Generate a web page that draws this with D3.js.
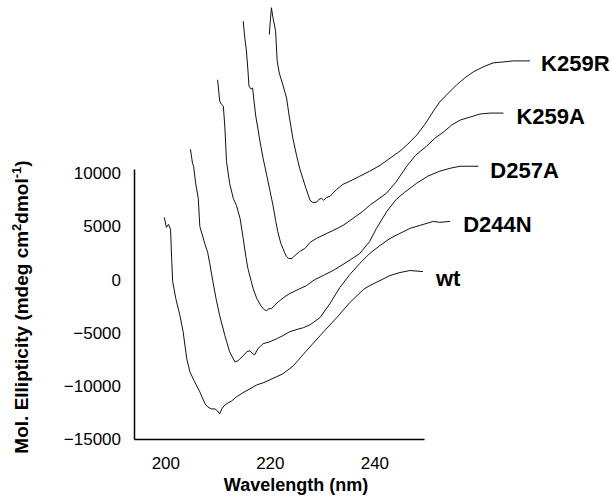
<!DOCTYPE html>
<html>
<head>
<meta charset="utf-8">
<script src="https://cdn.jsdelivr.net/npm/d3@7"></script>
<style>
  html, body { margin: 0; padding: 0; background: #fff; }
  svg { display: block; font-family: "Liberation Sans", Arial, sans-serif; }
</style>
</head>
<body>
<svg id="chart" width="612" height="497"></svg>
<script>
// ---- Data (plotted coordinates: wavelength in nm, offset ellipticity) ----
const seriesNames = ["wt", "D244N", "D257A", "K259A", "K259R"];

const wtX = [199.8,200.2,200.6,201.0,201.2,201.4,202.0,202.8,203.4,204.1,204.7,205.6,206.6,207.6,208.1,208.8,209.5,210.0,210.4,210.8,211.2,212.0,212.7,213.6,214.8,216.2,217.5,218.7,220.0,222.5,224.5,227.0,229.6,232.8,235.3,237.9,239.1,241.1,243.0,244.9,246.8,249.3];
const wtY = [5850,4910,5190,4720,1980,-190,-1790,-3400,-4910,-7450,-8680,-9620,-10570,-11700,-11980,-12170,-12170,-12360,-12640,-12170,-11890,-11600,-11420,-11040,-10660,-10280,-9910,-9720,-9430,-8870,-8110,-6700,-5280,-3580,-2170,-940,-570,-90,380,660,850,750];

const d244nX = [204.8,205.2,205.4,205.8,206.3,206.6,207.6,208.1,208.5,209.1,209.7,210.4,211.4,212.3,213.3,213.9,214.9,215.6,216.2,216.7,217.1,217.7,218.7,220.0,221.3,222.5,223.8,225.0,226.4,227.7,229.6,231.5,233.4,235.3,237.2,239.1,241.1,243.0,244.9,246.8,248.7,251.3,252.5,254.5];
const d244nY = [12260,10940,10660,9060,7640,5000,3300,2550,1510,-190,-1790,-3400,-5280,-6790,-7740,-7640,-7170,-6790,-6700,-6980,-7080,-6510,-6040,-5850,-5570,-5280,-4910,-4720,-4530,-4250,-3580,-2260,-750,470,1510,2450,3210,3870,4340,4810,5090,5470,5380,5470];

const d257aX = [210.0,210.4,210.7,211.1,211.4,211.7,212.3,213.0,213.6,214.3,214.9,215.4,215.8,216.4,216.8,217.5,218.4,218.9,219.4,219.8,220.3,221.0,221.9,222.9,223.8,225.4,227.0,228.6,230.2,232.1,234.0,235.5,237.2,239.1,240.4,242.4,244.2,245.8,248.1,250.2,252.5,254.5,256.4,258.3,259.9];
const d257aY = [18800,16790,16510,16320,14250,11130,9060,7640,6980,5750,3870,2170,1040,-90,-850,-1790,-2550,-2830,-2920,-2740,-2740,-2360,-1980,-1600,-1320,-940,-570,0,380,850,1420,1890,2450,3580,4810,6420,7550,8210,9060,9720,10190,10470,10660,10660,10660];

const k259aX = [214.9,215.2,215.5,215.8,216.0,216.4,216.7,216.9,217.3,217.7,218.1,218.7,219.4,220.0,220.6,221.1,221.5,222.1,222.5,222.9,223.2,223.6,224.2,224.8,225.7,226.7,227.7,228.9,230.9,232.1,234.0,235.9,237.8,239.1,240.7,242.3,244.1,246.2,247.9,250.0,251.6,253.2,254.8,256.4,258.3,260.2,262.1,264.7];
const k259aY = [24310,22740,21600,19720,18210,17920,18020,17080,15380,14250,13020,11420,9810,8400,6980,5570,4530,3400,2920,2450,2170,1980,1980,2260,2640,2920,3490,3870,4340,4620,5090,5750,6420,6980,7550,8110,9150,10660,11700,12550,13300,13870,14530,15000,15280,15570,15660,15660];

const k259rX = [219.9,220.1,220.3,220.6,221.1,221.4,221.8,222.5,223.2,223.7,224.4,225.1,225.7,226.3,226.9,227.7,228.2,228.9,229.4,229.9,230.3,230.9,231.5,232.8,234.0,235.3,237.2,239.1,241.1,243.0,244.9,246.4,248.1,249.7,251.3,252.5,253.8,255.7,257.3,258.9,260.8,262.7,264.6,266.6,269.8];
const k259rY = [23050,24430,25570,24620,23400,20570,19430,18300,17080,15380,13300,11700,10470,9530,8590,7450,7260,7260,7550,7640,7450,7740,7830,8490,8960,9250,9720,10190,10750,11420,12080,12740,13590,14620,15850,16700,17360,18300,18960,19530,20000,20380,20470,20570,20570];

const xTicks = [200, 220, 240];
const yTicks = [-15000, -10000, -5000, 0, 5000, 10000];

// ---- Build ----
const svg = d3.select("#chart");
const x = d3.scaleLinear().domain([194, 249.5]).range([134, 424]);
const y = d3.scaleLinear().domain([-15000, 10400]).range([439, 169]);

const series = [
  { name: "wt",    xs: wtX,    ys: wtY,    dx: 13, dy: 14 },
  { name: "D244N", xs: d244nX, ys: d244nY, dx: 13, dy: 11 },
  { name: "D257A", xs: d257aX, ys: d257aY, dx: 12, dy: 12 },
  { name: "K259A", xs: k259aX, ys: k259aY, dx: 13, dy: 11 },
  { name: "K259R", xs: k259rX, ys: k259rY, dx: 11, dy: 10 }
];

const line = d3.line().x(d => x(d[0])).y(d => y(d[1]));

series.forEach(s => {
  const pts = s.xs.map((v, i) => [v, s.ys[i]]);
  svg.append("path")
    .datum(pts)
    .attr("fill", "none")
    .attr("stroke", "#111")
    .attr("stroke-width", 1)
    .attr("stroke-linejoin", "round")
    .attr("d", line);
  const last = pts[pts.length - 1];
  svg.append("text")
    .attr("x", x(last[0]) + s.dx)
    .attr("y", y(last[1]) + s.dy)
    .attr("font-size", 22)
    .attr("font-weight", "bold")
    .attr("fill", "#000")
    .text(s.name);
});

// Axes
const xAxis = svg.append("g")
  .attr("transform", `translate(0,${y(-15000)})`)
  .call(d3.axisBottom(x).tickValues(xTicks).tickSize(0).tickPadding(18).tickFormat(d3.format("d")));
xAxis.select(".domain").attr("stroke", "#000").attr("stroke-width", 1.5);
xAxis.selectAll("text").attr("font-size", 17).attr("fill", "#000").attr("font-family", "Liberation Sans, Arial, sans-serif");

const yAxis = svg.append("g")
  .attr("transform", `translate(${x(194)},0)`)
  .call(d3.axisLeft(y).tickValues(yTicks).tickSize(0).tickPadding(13).tickFormat(d3.format("d")));
yAxis.select(".domain").attr("stroke", "#000").attr("stroke-width", 1.5);
yAxis.selectAll("text").attr("font-size", 17).attr("fill", "#000").attr("font-family", "Liberation Sans, Arial, sans-serif");

// Axis titles
svg.append("text")
  .attr("x", 296)
  .attr("y", 491)
  .attr("text-anchor", "middle")
  .attr("font-size", 18)
  .attr("font-weight", "bold")
  .text("Wavelength (nm)");

const yt = svg.append("text")
  .attr("transform", "translate(28,307) rotate(-90)")
  .attr("text-anchor", "middle")
  .attr("font-size", 19)
  .attr("font-weight", "bold");
yt.append("tspan").text("Mol. Ellipticity (mdeg cm");
yt.append("tspan").attr("font-size", 13).attr("dy", -7).text("2");
yt.append("tspan").attr("dy", 7).text("dmol");
yt.append("tspan").attr("font-size", 13).attr("dy", -7).text("-1");
yt.append("tspan").attr("dy", 7).text(")");
</script>
</body>
</html>
